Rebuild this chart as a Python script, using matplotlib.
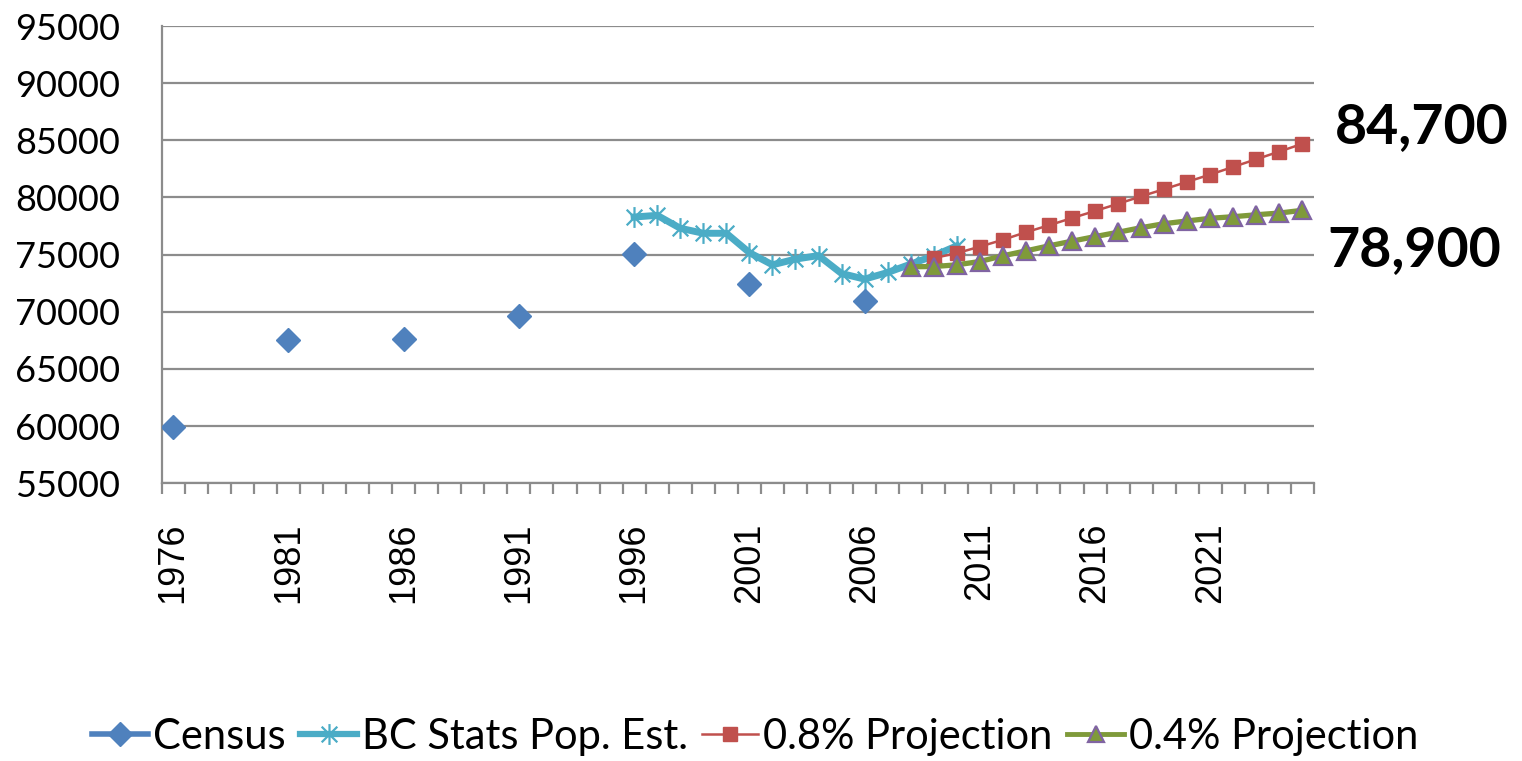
import matplotlib
matplotlib.use("Agg")
import matplotlib.pyplot as plt
import numpy as np
from matplotlib.path import Path
from matplotlib.lines import Line2D

# ---- data ----
years = list(range(1976, 2026))
label_years = [1976, 1981, 1986, 1991, 1996, 2001, 2006, 2011, 2016, 2021]

census_years = [1976, 1981, 1986, 1991, 1996, 2001, 2006]
census = [59930, 67560, 67640, 69670, 75100, 72400, 70970]

bc_years = list(range(1996, 2011))
bc_est = [78290, 78440, 77310, 76870, 76870, 75180, 74110, 74610, 74920,
          73350, 72860, 73440, 74170, 74900, 75770]

p08_years = list(range(2009, 2026))
p08 = [74700, 75130, 75700, 76300, 76960, 77570, 78200, 78820, 79450,
       80100, 80730, 81370, 82010, 82680, 83350, 84020, 84700]

p04_years = list(range(2008, 2026))
p04 = [73940, 73960, 74110, 74400, 74900, 75330, 75770, 76180, 76580,
       76960, 77360, 77710, 77950, 78180, 78320, 78490, 78640, 78880]

end_labels = ["84,700", "78,900"]
series_names = ["Census", "BC Stats Pop. Est.", "0.8% Projection", "0.4% Projection"]

# ---- style ----
W, H = 1522, 761
fig = plt.figure(figsize=(W / 100, H / 100), dpi=100)
L, R, T, B = 161.7, 1314, 26, 483.3
ax = fig.add_axes([L / W, 1 - B / H, (R - L) / W, (B - T) / H])

c_census = "#4F81BD"
c_bc = "#4BACC6"
c_p08 = "#C0504D"
c_p04 = "#7F9A3A"
c_p04_edge = "#8064A2"

# asterisk marker (x + vertical line)
star = Path([(0, -1), (0, 1), (-0.75, -0.75), (0.75, 0.75), (-0.75, 0.75), (0.75, -0.75)],
            [Path.MOVETO, Path.LINETO, Path.MOVETO, Path.LINETO, Path.MOVETO, Path.LINETO])

def xi(ys):
    return [y - years[0] for y in ys]

ax.plot(xi(bc_years), bc_est, color=c_bc, lw=5, marker=star, markersize=15,
        markeredgewidth=1.6, markeredgecolor=c_bc, zorder=3)
ax.plot(xi(p08_years), p08, color=c_p08, lw=1.8, marker="s", markersize=10.5,
        markerfacecolor=c_p08, markeredgecolor=c_p08, zorder=4)
ax.plot(xi(p04_years), p04, color=c_p04, lw=3.8, marker="^", markersize=12.5,
        markerfacecolor=c_p04, markeredgecolor=c_p04_edge, markeredgewidth=1.6, zorder=5)
ax.plot(xi(census_years), census, linestyle="none", marker="D", markersize=12,
        color=c_census, zorder=6)

ax.set_xlim(-0.5, len(years) - 0.5)
ax.set_ylim(55000, 95000)
ax.set_yticks(np.arange(55000, 95001, 5000))
ax.grid(axis="y", color="#8C8C8C", lw=1.6)
ax.set_axisbelow(True)

for s in ["top", "right"]:
    ax.spines[s].set_visible(False)
for s in ["left", "bottom"]:
    ax.spines[s].set_color("#8C8C8C")
    ax.spines[s].set_linewidth(1.6)

ax.set_xticks([y - years[0] for y in label_years])
ax.set_xticklabels([str(y) for y in label_years], rotation=90,
                   fontfamily="Liberation Sans", fontsize=26)
ax.set_xticks(np.arange(-0.5, len(years), 1.0), minor=True)
ax.tick_params(axis="x", which="major", length=0, pad=28)
ax.tick_params(axis="x", which="minor", length=8, width=1.6, color="#8C8C8C", direction="out")
ax.tick_params(axis="y", length=0, pad=30)
for lab in ax.get_yticklabels():
    lab.set_fontfamily("Lato")
    lab.set_fontsize(26)

# end labels
fig.text(1422 / W, 1 - 127 / H, end_labels[0], fontfamily="Lato", fontweight="bold",
         fontsize=40, ha="center", va="center")
fig.text(1414 / W, 1 - 250 / H, end_labels[1], fontfamily="Lato", fontweight="bold",
         fontsize=40, ha="center", va="center")

# legend
handles = [
    Line2D([], [], color=c_census, lw=4, marker="D", markersize=12),
    Line2D([], [], color=c_bc, lw=4.5, marker=star, markersize=15, markeredgewidth=1.6),
    Line2D([], [], color=c_p08, lw=1.8, marker="s", markersize=10.5),
    Line2D([], [], color=c_p04, lw=3.5, marker="^", markersize=12,
           markerfacecolor=c_p04, markeredgecolor=c_p04_edge, markeredgewidth=1.6),
]
fig.legend(handles, series_names, loc="center", bbox_to_anchor=(755 / W, 1 - 737 / H),
           ncol=4, frameon=False, prop={"family": "Lato", "size": 30},
           handlelength=1.35, handletextpad=0.12, columnspacing=0.35, borderpad=0)

fig.savefig("out.png", dpi=100)
